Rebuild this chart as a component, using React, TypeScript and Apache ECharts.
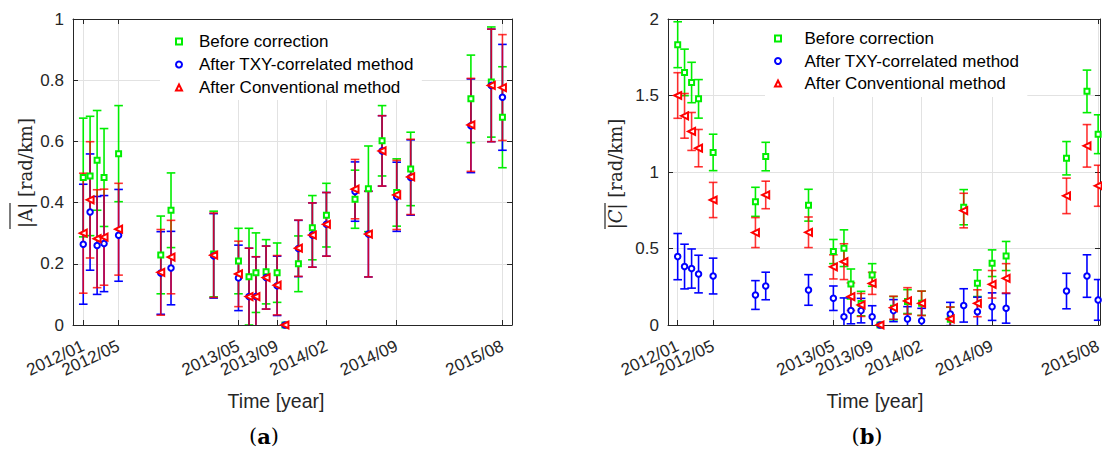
import { useEffect, useRef } from 'react';
import * as echarts from 'echarts';

// Observation dates, as months elapsed since 2012/01
const monthsSince2012 = [0, 0.7, 1.42, 2.13, 3.62, 7.94, 8.99, 13.36, 15.9, 16.98, 17.69, 18.73, 19.86, 20.66, 22.04, 23.47, 24.91, 27.84, 29.21, 30.61, 32.11, 33.54, 39.71, 41.8, 42.94];
const tickMonths = [0, 3.62, 15.9, 19.86, 24.91, 32.11, 42.94];
const tickLabels = ['2012/01', '2012/05', '2013/05', '2013/09', '2014/02', '2014/09', '2015/08'];
const legendNames = ['Before correction', 'After TXY-correlated method', 'After Conventional method'];

// Panel (a): |A| [rad/km]
const beforeA = [0.482, 0.487, 0.538, 0.482, 0.56, 0.229, 0.375, 0.232, 0.209, 0.158, 0.171, 0.174, 0.171, 0, 0.2, 0.318, 0.359, 0.411, 0.445, 0.602, 0.433, 0.51, 0.739, 0.794, 0.679];
const beforeAErr = [0.194, 0.195, 0.163, 0.16, 0.157, 0.127, 0.122, 0.14, 0.107, 0.158, 0.13, 0.105, 0.097, 0, 0.091, 0.105, 0.104, 0.095, 0.14, 0.115, 0.11, 0.12, 0.143, 0.18, 0.165];
const txyA = [0.264, 0.369, 0.26, 0.266, 0.293, 0.17, 0.186, 0.226, 0.154, 0.093, 0.093, 0.155, 0.128, 0, 0.25, 0.294, 0.329, 0.436, 0.297, 0.569, 0.419, 0.482, 0.651, 0.783, 0.744];
const txyAErr = [0.196, 0.19, 0.16, 0.157, 0.15, 0.135, 0.12, 0.138, 0.107, 0.158, 0.13, 0.103, 0.097, 0, 0.092, 0.105, 0.104, 0.097, 0.14, 0.115, 0.113, 0.123, 0.153, 0.184, 0.173];
const convA = [0.3, 0.409, 0.282, 0.287, 0.313, 0.172, 0.222, 0.228, 0.167, 0.093, 0.093, 0.155, 0.13, 0, 0.251, 0.294, 0.329, 0.444, 0.297, 0.569, 0.425, 0.484, 0.654, 0.783, 0.776];
const convAErr = [0.196, 0.19, 0.16, 0.157, 0.15, 0.14, 0.12, 0.138, 0.107, 0.158, 0.13, 0.103, 0.097, 0, 0.092, 0.105, 0.104, 0.097, 0.14, 0.115, 0.113, 0.123, 0.152, 0.184, 0.173];

// Panel (b): |C| [rad/km]
const beforeC = [1.832, 1.651, 1.585, 1.478, 1.128, 0.805, 1.101, 0.783, 0.48, 0.502, 0.268, 0.14, 0.327, 0, 0.11, 0.153, 0.142, 0.037, 0.77, 0.273, 0.404, 0.451, 1.09, 1.527, 1.247];
const beforeCErr = [0.15, 0.152, 0.132, 0.126, 0.119, 0.095, 0.093, 0.104, 0.079, 0.12, 0.098, 0.08, 0.074, 0, 0.076, 0.078, 0.079, 0.079, 0.115, 0.087, 0.087, 0.095, 0.109, 0.139, 0.127];
const txyC = [0.447, 0.382, 0.369, 0.333, 0.32, 0.196, 0.255, 0.229, 0.175, 0.054, 0.094, 0.094, 0.054, 0, 0.094, 0.04, 0.027, 0.072, 0.128, 0.087, 0.12, 0.109, 0.222, 0.32, 0.164];
const txyCErr = [0.151, 0.146, 0.128, 0.123, 0.117, 0.094, 0.09, 0.1, 0.08, 0.123, 0.086, 0.08, 0.072, 0, 0.072, 0.08, 0.082, 0.076, 0.109, 0.095, 0.09, 0.097, 0.116, 0.139, 0.133];
const convC = [1.5, 1.367, 1.265, 1.156, 0.817, 0.604, 0.85, 0.606, 0.38, 0.414, 0.185, 0.131, 0.272, 0, 0.113, 0.157, 0.142, 0.04, 0.748, 0.142, 0.266, 0.305, 0.844, 1.171, 0.91];
const convCErr = [0.149, 0.146, 0.124, 0.122, 0.115, 0.098, 0.09, 0.1, 0.079, 0.117, 0.09, 0.075, 0.072, 0, 0.075, 0.087, 0.08, 0.078, 0.113, 0.088, 0.09, 0.096, 0.116, 0.139, 0.134];

const GREEN = '#00ee00';
const BLUE = '#0000ff';
const RED = '#ff0000';
const AXIS = '#262626';
const GRIDLINE = '#e2e2e2';
const SANS = '"Liberation Sans", Arial, sans-serif';
const SERIF = '"DejaVu Serif", serif';

function tickFormatter(v: number) {
  let best = 0;
  for (let i = 1; i < tickMonths.length; i++) {
    if (Math.abs(tickMonths[i] - v) < Math.abs(tickMonths[best] - v)) best = i;
  }
  return Math.abs(tickMonths[best] - v) < 0.01 ? tickLabels[best] : '';
}

function errorSeries(axisIdx: number, vals: number[], errs: number[], color: string, opacity: number, name: string) {
  return {
    type: 'custom',
    name: name + ' (error)',
    xAxisIndex: axisIdx,
    yAxisIndex: axisIdx,
    clip: true,
    silent: true,
    data: monthsSince2012.map((m, i) => [m, vals[i], errs[i]]),
    encode: { x: 0, y: 1 },
    renderItem: (params: any, api: any) => {
      const x = api.value(0);
      const c = api.value(1);
      const e = api.value(2);
      if (!e) return null;
      const p1 = api.coord([x, c + e]);
      const p2 = api.coord([x, c - e]);
      const w = 4.3;
      const style = { stroke: color, lineWidth: 1.6, fill: null, opacity };
      return {
        type: 'group',
        children: [
          { type: 'line', shape: { x1: p1[0], y1: p1[1], x2: p2[0], y2: p2[1] }, style },
          { type: 'line', shape: { x1: p1[0] - w, y1: p1[1], x2: p1[0] + w, y2: p1[1] }, style },
          { type: 'line', shape: { x1: p2[0] - w, y1: p2[1], x2: p2[0] + w, y2: p2[1] }, style },
        ],
      };
    },
  };
}

function markerSeries(axisIdx: number, vals: number[], color: string, name: string, symbol: string, size: number, rotate: number) {
  return {
    type: 'scatter',
    name,
    xAxisIndex: axisIdx,
    yAxisIndex: axisIdx,
    silent: true,
    data: monthsSince2012.map((m, i) => [m, vals[i]]),
    symbol,
    symbolSize: size,
    symbolRotate: rotate,
    itemStyle: { color, borderColor: color, borderWidth: 1.3, opacity: 1 },
  };
}

function panelSeries(axisIdx: number, g: number[], ge: number[], b: number[], be: number[], r: number[], re: number[]) {
  return [
    errorSeries(axisIdx, g, ge, GREEN, 1, legendNames[0]),
    markerSeries(axisIdx, g, GREEN, legendNames[0], 'emptyRect', 5, 0),
    errorSeries(axisIdx, b, be, BLUE, 1, legendNames[1]),
    markerSeries(axisIdx, b, BLUE, legendNames[1], 'emptyCircle', 5.5, 0),
    errorSeries(axisIdx, r, re, RED, 0.8, legendNames[2]),
    markerSeries(axisIdx, r, RED, legendNames[2], 'emptyTriangle', 7, 90),
  ];
}

function xAxes(gi: number, min: number, max: number) {
  return [
    {
      type: 'value', gridIndex: gi, position: 'bottom', min, max,
      axisLine: { show: true, onZero: false, lineStyle: { color: AXIS, width: 1 } },
      axisTick: { show: true, inside: true, length: 5, customValues: tickMonths, lineStyle: { color: AXIS } },
      axisLabel: {
        show: true,
        // a blank placeholder at the axis minimum keeps the library from hiding the crowded first labels
        customValues: [min, ...tickMonths],
        rotate: 25, margin: 20, formatter: tickFormatter,
        hideOverlap: false, showMinLabel: false, showMaxLabel: true,
        fontSize: 17, fontFamily: SANS, color: AXIS,
      },
      splitLine: { show: true, lineStyle: { color: GRIDLINE, width: 1 } },
    },
    {
      type: 'value', gridIndex: gi, position: 'top', min, max,
      axisLine: { show: true, onZero: false, lineStyle: { color: AXIS, width: 1 } },
      axisTick: { show: true, inside: true, length: 5, customValues: tickMonths, lineStyle: { color: AXIS } },
      axisLabel: { show: false },
      splitLine: { show: false },
    },
  ];
}

function yAxes(gi: number, max: number, interval: number) {
  return [
    {
      type: 'value', gridIndex: gi, position: 'left', min: 0, max, interval,
      axisLine: { show: true, onZero: false, lineStyle: { color: AXIS, width: 1 } },
      axisTick: { show: true, inside: true, length: 5, lineStyle: { color: AXIS } },
      axisLabel: { show: true, margin: 9, fontSize: 17, fontFamily: SANS, color: AXIS },
      splitLine: { show: true, lineStyle: { color: GRIDLINE, width: 1 } },
    },
    {
      type: 'value', gridIndex: gi, position: 'right', min: 0, max, interval,
      axisLine: { show: true, onZero: false, lineStyle: { color: AXIS, width: 1 } },
      axisTick: { show: true, inside: true, length: 5, lineStyle: { color: AXIS } },
      axisLabel: { show: false },
      splitLine: { show: false },
    },
  ];
}

function legend(left: number, top: number, padding: number[], textGap: number, itemGap: number) {
  return {
    orient: 'vertical', left, top, padding, itemGap,
    itemWidth: 6, itemHeight: 6,
    backgroundColor: '#ffffff',
    selectedMode: false,
    data: legendNames,
    textStyle: { fontSize: 17, fontFamily: SANS, color: '#000', padding: [0, 0, 0, textGap] },
  };
}

export default function App() {
  const ref = useRef<HTMLDivElement>(null);
  useEffect(() => {
    if (!ref.current) return;
    const chart = echarts.init(ref.current, undefined, { renderer: 'svg' });
    const option: any = {
      animation: false,
      backgroundColor: '#ffffff',
      grid: [
        { left: 73, top: 19, width: 439, height: 306, containLabel: false, outerBoundsMode: 'none' },
        { left: 668, top: 19, width: 432, height: 306, containLabel: false, outerBoundsMode: 'none' },
      ],
      xAxis: [...xAxes(0, -1.05, 43.92), ...xAxes(1, -0.99, 43.13)],
      yAxis: [...yAxes(0, 1, 0.2), ...yAxes(1, 2, 0.5)],
      legend: [
        legend(160, 20, [13, 8, 4, 15], 12, 6),
        legend(765, 20, [10, 8, 5, 9], 18.5, 5.5),
      ],
      series: [
        ...panelSeries(0, beforeA, beforeAErr, txyA, txyAErr, convA, convAErr),
        ...panelSeries(2, beforeC, beforeCErr, txyC, txyCErr, convC, convCErr),
      ],
      graphic: [
        { type: 'text', x: 25.5, y: 173, rotation: Math.PI / 2, style: { text: '|A| [rad/km]', fontSize: 18, fontFamily: SERIF, fill: AXIS, align: 'center', verticalAlign: 'middle', textAlign: 'center', textVerticalAlign: 'middle' } },
        { type: 'line', shape: { x1: 10, y1: 203, x2: 10, y2: 229 }, style: { stroke: AXIS, lineWidth: 1.2 } },
        { type: 'text', x: 615.5, y: 174, rotation: Math.PI / 2, style: { text: '|{it|C}| [rad/km]', rich: { it: { fontStyle: 'italic', fontSize: 18, fontFamily: SERIF, fill: AXIS } }, fontSize: 18, fontFamily: SERIF, fill: AXIS, align: 'center', verticalAlign: 'middle', textAlign: 'center', textVerticalAlign: 'middle' } },
        { type: 'line', shape: { x1: 605, y1: 203, x2: 605, y2: 229 }, style: { stroke: AXIS, lineWidth: 1.2 } },
        { type: 'text', x: 276, y: 401, style: { text: 'Time [year]', fontSize: 19.5, fontFamily: SANS, fill: AXIS, align: 'center', verticalAlign: 'middle', textAlign: 'center', textVerticalAlign: 'middle' } },
        { type: 'text', x: 875, y: 401, style: { text: 'Time [year]', fontSize: 19.5, fontFamily: SANS, fill: AXIS, align: 'center', verticalAlign: 'middle', textAlign: 'center', textVerticalAlign: 'middle' } },
        { type: 'text', x: 264, y: 436, style: { text: '({b|a})', rich: { b: { fontWeight: 'bold', fontSize: 21, fontFamily: SERIF, fill: '#000' } }, fontSize: 21, fontFamily: SERIF, fill: '#000', align: 'center', verticalAlign: 'middle', textAlign: 'center', textVerticalAlign: 'middle' } },
        { type: 'text', x: 867, y: 436, style: { text: '({b|b})', rich: { b: { fontWeight: 'bold', fontSize: 21, fontFamily: SERIF, fill: '#000' } }, fontSize: 21, fontFamily: SERIF, fill: '#000', align: 'center', verticalAlign: 'middle', textAlign: 'center', textVerticalAlign: 'middle' } },
      ],
    };
    chart.setOption(option);
    return () => chart.dispose();
  }, []);
  return <div ref={ref} style={{ position: 'fixed', left: 0, top: 0, width: 1102, height: 450 }} />;
}
